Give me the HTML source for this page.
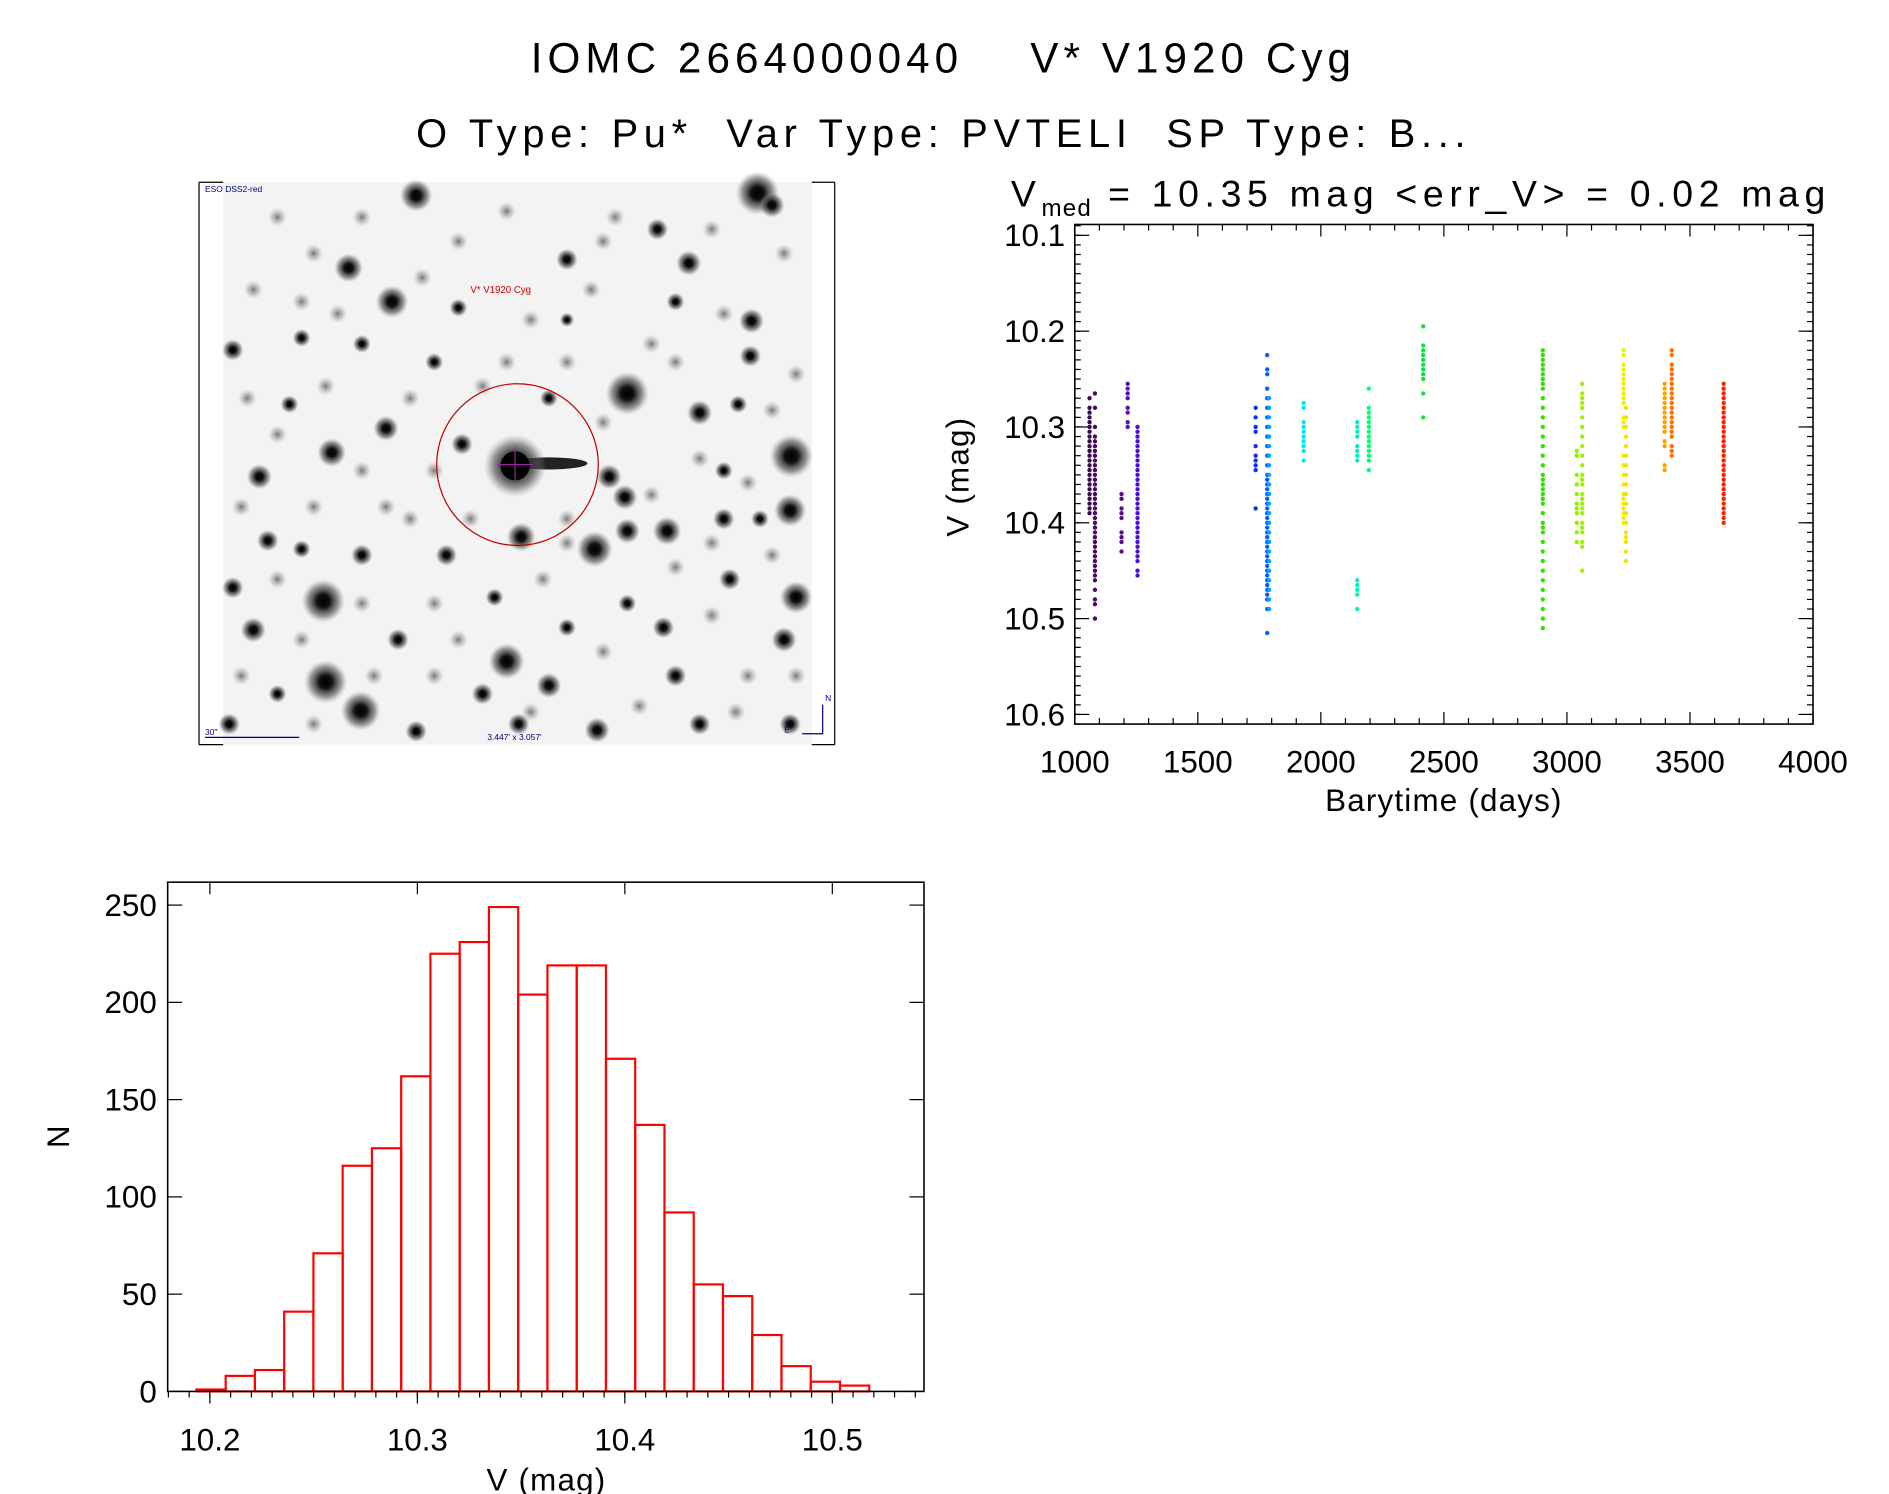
<!DOCTYPE html>
<html><head><meta charset="utf-8"><style>
html,body{margin:0;padding:0;background:#fff;}
svg{display:block;}
text{font-family:"Liberation Sans",sans-serif;fill:#000;white-space:pre;}
</style></head><body>
<svg id="root" width="1889" height="1494" viewBox="0 0 1566 1238" preserveAspectRatio="none" xmlns="http://www.w3.org/2000/svg">
<defs>
<radialGradient id="star"><stop offset="0" stop-color="#000"/><stop offset="0.3" stop-color="#111"/><stop offset="0.7" stop-color="#555" stop-opacity="0.6"/><stop offset="1" stop-color="#999" stop-opacity="0"/></radialGradient>
<radialGradient id="faint"><stop offset="0" stop-color="#777"/><stop offset="0.6" stop-color="#aaa" stop-opacity="0.5"/><stop offset="1" stop-color="#ccc" stop-opacity="0"/></radialGradient>
</defs>
<text x="440" y="60" font-size="35" textLength="680" lengthAdjust="spacing">IOMC 2664000040    V* V1920 Cyg</text>
<text x="345" y="122" font-size="33" textLength="870" lengthAdjust="spacing">O Type: Pu*  Var Type: PVTELI  SP Type: B...</text>
<text x="838" y="171" font-size="31" letter-spacing="4.7">V<tspan font-size="20" dy="8" letter-spacing="1">med</tspan><tspan dy="-8"> = 10.35 mag &lt;err_V&gt; = 0.02 mag</tspan></text>

<g id="img">
<rect x="185" y="151" width="488" height="466" fill="#f3f3f3"/>
<line x1="165" y1="151" x2="165" y2="617" stroke="#000" stroke-width="1"/>
<line x1="165" y1="151" x2="185" y2="151" stroke="#000"/>
<line x1="165" y1="617" x2="185" y2="617" stroke="#000"/>
<line x1="692" y1="151" x2="692" y2="617" stroke="#000"/>
<line x1="673" y1="151" x2="692" y2="151" stroke="#000"/>
<line x1="673" y1="617" x2="692" y2="617" stroke="#000"/>
<g id="faints"></g>
<g id="stars"></g>
<ellipse cx="455" cy="384" rx="32" ry="5" fill="#222"/>
<circle cx="427" cy="386" r="26" fill="url(#star)"/>
<circle cx="427" cy="386" r="12" fill="#000"/>
<line x1="412" y1="385" x2="442" y2="385" stroke="#a020a0" stroke-width="1"/>
<line x1="427" y1="370" x2="427" y2="400" stroke="#a020a0" stroke-width="1"/>
<circle cx="429" cy="385" r="67" fill="none" stroke="#c00000" stroke-width="1"/>
<text x="390" y="243" font-size="8" style="fill:#d00000">V* V1920 Cyg</text>
<text x="170" y="159" font-size="7" style="fill:#000080">ESO DSS2-red</text>
<text x="170" y="609" font-size="7" style="fill:#000080">30"</text>
<line x1="170" y1="611" x2="248" y2="611" stroke="#000080"/>
<text x="404" y="613" font-size="7" style="fill:#000080">3.447' x 3.057'</text>
<path d="M665,608 L682,608 L682,584" fill="none" stroke="#000080"/>
<text x="684" y="581" font-size="7" style="fill:#000080">N</text>
<text x="650" y="607" font-size="7" style="fill:#000080">E</text>
</g>

<g id="lc">
<rect x="891" y="186" width="612" height="414" fill="none" stroke="#000" stroke-width="1.3"/>
<g id="lcticks"></g>
<g id="lcdots"></g>
<text x="1197" y="672" font-size="26" text-anchor="middle" letter-spacing="1">Barytime (days)</text>
<text x="0" y="0" font-size="26" text-anchor="middle" letter-spacing="1" transform="translate(803,395) rotate(-90)">V (mag)</text>
</g>

<g id="hist">
<g id="hbars"></g>
<rect x="139" y="731" width="627" height="422" fill="none" stroke="#000" stroke-width="1.3"/>
<g id="hticks"></g>
<text x="453" y="1235" font-size="26" text-anchor="middle" letter-spacing="1">V (mag)</text>
<text x="0" y="0" font-size="26" text-anchor="middle" transform="translate(57,942) rotate(-90)">N</text>
</g>
</svg>
<script>
// ---------- Histogram data ----------
const binStart = 10.1935;
const binWidth = 0.0141;
const binCounts = [1,8,11,41,71,116,125,162,225,231,249,204,219,219,171,137,92,55,49,29,13,5,3];
const histXTicks = [10.2,10.3,10.4,10.5];
const histXLabels = ["10.2","10.3","10.4","10.5"];
const histYTicks = [0,50,100,150,200,250];
const histYLabels = ["0","50","100","150","200","250"];

// ---------- Light curve data ----------
const lcXTicks = [1000,1500,2000,2500,3000,3500,4000];
const lcXLabels = ["1000","1500","2000","2500","3000","3500","4000"];
const lcYTicks = [10.1,10.2,10.3,10.4,10.5,10.6];
const lcYLabels = ["10.1","10.2","10.3","10.4","10.5","10.6"];
const seasonDays = [1060,1082,1190,1215,1255,1735,1782,1790,1930,2148,2195,2416,2902,3040,3062,3230,3240,3397,3426,3637];
const seasonColors = ["#3a0a50","#4a0a62","#5a0a8a","#6010b0","#4a10d8","#1030f0","#0060ff","#00a8ff","#00e4ff","#00f0c0","#00ff70","#10e040","#30e000","#90f000","#a0f000","#f0f000","#f8e000","#ffa000","#ff7000","#ff2000"];
const seasonMags = [
 [10.27,10.28,10.285,10.29,10.295,10.30,10.305,10.31,10.315,10.32,10.325,10.33,10.335,10.34,10.345,10.35,10.355,10.36,10.365,10.37,10.375,10.38,10.385,10.39],
 [10.265,10.28,10.30,10.31,10.315,10.32,10.325,10.33,10.335,10.34,10.345,10.35,10.355,10.36,10.365,10.37,10.375,10.38,10.385,10.39,10.395,10.40,10.405,10.41,10.415,10.42,10.425,10.43,10.435,10.44,10.445,10.45,10.455,10.46,10.47,10.48,10.485,10.50],
 [10.37,10.375,10.385,10.39,10.395,10.41,10.415,10.42,10.43],
 [10.255,10.26,10.265,10.27,10.28,10.285,10.295,10.30],
 [10.30,10.305,10.31,10.315,10.32,10.325,10.33,10.335,10.34,10.345,10.35,10.355,10.36,10.365,10.37,10.375,10.38,10.385,10.39,10.395,10.40,10.405,10.41,10.415,10.42,10.425,10.43,10.435,10.44,10.45,10.455],
 [10.28,10.29,10.30,10.305,10.32,10.33,10.335,10.34,10.345,10.385],
 [10.225,10.24,10.245,10.26,10.27,10.28,10.29,10.30,10.31,10.32,10.33,10.34,10.35,10.355,10.36,10.365,10.37,10.375,10.38,10.385,10.39,10.395,10.40,10.405,10.41,10.415,10.42,10.425,10.43,10.435,10.44,10.445,10.45,10.455,10.46,10.465,10.47,10.475,10.48,10.49,10.515],
 [10.27,10.28,10.29,10.30,10.31,10.32,10.33,10.34,10.35,10.36,10.37,10.38,10.39,10.40,10.41,10.42,10.43,10.44,10.45,10.46,10.47,10.48,10.49],
 [10.275,10.28,10.295,10.30,10.305,10.31,10.315,10.32,10.325,10.335],
 [10.295,10.30,10.305,10.31,10.32,10.325,10.33,10.335,10.46,10.465,10.47,10.475,10.49],
 [10.26,10.28,10.285,10.29,10.295,10.30,10.305,10.31,10.315,10.32,10.325,10.33,10.335,10.345],
 [10.195,10.215,10.22,10.225,10.23,10.235,10.24,10.245,10.25,10.265,10.29],
 [10.22,10.225,10.23,10.235,10.24,10.245,10.25,10.255,10.26,10.27,10.28,10.29,10.30,10.31,10.32,10.33,10.34,10.35,10.355,10.36,10.365,10.37,10.375,10.38,10.39,10.40,10.405,10.41,10.42,10.43,10.44,10.45,10.46,10.47,10.48,10.49,10.50,10.51],
 [10.325,10.33,10.35,10.36,10.37,10.38,10.385,10.39,10.40,10.41,10.42],
 [10.255,10.265,10.27,10.275,10.28,10.29,10.30,10.31,10.32,10.33,10.34,10.35,10.355,10.36,10.37,10.375,10.38,10.385,10.39,10.40,10.405,10.41,10.42,10.425,10.45],
 [10.22,10.225,10.235,10.24,10.245,10.25,10.255,10.26,10.265,10.27,10.275,10.29,10.295,10.30,10.33,10.34,10.35,10.36,10.37,10.375,10.38,10.385,10.39,10.395,10.40],
 [10.28,10.29,10.30,10.31,10.32,10.33,10.34,10.35,10.36,10.37,10.38,10.39,10.40,10.41,10.415,10.42,10.43,10.44],
 [10.255,10.26,10.265,10.27,10.275,10.28,10.285,10.29,10.295,10.30,10.305,10.315,10.32,10.34,10.345],
 [10.22,10.225,10.235,10.24,10.245,10.25,10.255,10.26,10.265,10.27,10.275,10.28,10.285,10.29,10.295,10.30,10.305,10.31,10.32,10.325,10.33],
 [10.255,10.26,10.265,10.27,10.275,10.28,10.285,10.29,10.295,10.30,10.305,10.31,10.315,10.32,10.325,10.33,10.335,10.34,10.345,10.35,10.355,10.36,10.365,10.37,10.375,10.38,10.385,10.39,10.395,10.40]
];

// ---------- Sky image stars (decorative) ----------
const starList = [[345,162,9],[628,160,12],[289,222,8],[325,250,9],[571,218,7],[470,215,6],[520,326,12],[580,342,7],[656,378,12],[655,423,9],[518,412,7],[520,440,7],[268,498,12],[270,565,12],[299,589,11],[420,548,10],[432,445,8],[493,455,10],[553,440,8],[660,495,9],[650,530,7],[623,266,7],[622,295,6],[193,290,6],[193,487,6],[215,395,7],[222,448,6],[275,375,8],[320,355,7],[383,368,6],[210,522,7],[400,575,6],[455,568,7],[495,605,7],[560,560,6],[605,480,6],[550,520,6],[250,455,5],[300,460,6],[370,460,6],[630,430,5],[545,190,6],[600,430,6],[430,600,6],[240,335,5],[455,330,5],[360,300,5],[410,495,5],[330,530,6],[580,600,6],[190,600,6],[345,606,6],[505,395,7],[470,265,4],[612,335,5],[655,600,6],[640,170,7],[300,285,5],[380,255,5],[250,280,5],[560,250,5],[600,390,5],[230,575,5],[520,500,5],[470,520,5]];
const faintList = [[230,180],[260,210],[300,180],[380,200],[420,175],[510,180],[590,190],[650,210],[210,240],[250,250],[350,230],[440,265],[490,240],[540,285],[600,260],[660,310],[205,330],[270,320],[340,330],[400,320],[470,300],[560,300],[640,340],[230,360],[300,390],[360,390],[500,350],[580,380],[620,400],[200,420],[260,420],[340,430],[390,430],[470,430],[560,470],[640,460],[230,480],[300,500],[360,500],[450,480],[500,540],[590,510],[620,560],[250,530],[310,560],[360,560],[440,590],[530,585],[610,590],[660,560],[200,560],[260,600],[470,450],[380,530],[540,410],[590,450],[320,420],[280,260],[420,300],[500,200]];
const NS = "http://www.w3.org/2000/svg";
function mk(tag, attrs, parent){const e=document.createElementNS(NS,tag);for(const k in attrs)e.setAttribute(k,attrs[k]);parent.appendChild(e);return e;}

const fg = document.getElementById('faints');
faintList.forEach(s=>{
  const c = mk('circle',{cx:s[0],cy:s[1],r:8,fill:'url(#faint)'},fg);
  
  
});
const sg = document.getElementById('stars');
starList.forEach(s=>{
  const c = mk('circle',{cx:s[0],cy:s[1],r:s[2]*1.5,fill:'url(#star)'},sg);
  
  
});

// ---------- Light curve axes ----------
const LX0=891, LX1=1503, LY0=186, LY1=600;
function lx(d){return LX0 + (d-1000)/3000*(LX1-LX0);}
function ly(m){return 195 + (m-10.1)*794;}
const lt = document.getElementById('lcticks');
lcXTicks.forEach((t,i)=>{
  const x=lx(t);
  mk('line',{x1:x,y1:LY1,x2:x,y2:LY1-10,stroke:'#000'},lt);
  mk('line',{x1:x,y1:LY0,x2:x,y2:LY0+10,stroke:'#000'},lt);
  const tx = mk('text',{x:x,y:640,'font-size':26,'text-anchor':'middle'},lt);
  tx.textContent = lcXLabels[i];
  
  
});
for(let d=1100; d<4000; d+=100){ if(d%500===0) continue; const x=lx(d);
  mk('line',{x1:x,y1:LY1,x2:x,y2:LY1-5,stroke:'#000'},lt);
  mk('line',{x1:x,y1:LY0,x2:x,y2:LY0+5,stroke:'#000'},lt);}
lcYTicks.forEach((t,i)=>{
  const y=ly(t);
  mk('line',{x1:LX0,y1:y,x2:LX0+12,y2:y,stroke:'#000'},lt);
  mk('line',{x1:LX1,y1:y,x2:LX1-12,y2:y,stroke:'#000'},lt);
  const tx = mk('text',{x:883,y:y+9,'font-size':26,'text-anchor':'end'},lt);
  tx.textContent = lcYLabels[i];
  
  
});
for(let k=0;k<=52;k++){ const m=10.09+k*0.01; const y=ly(m); if(y<LY0||y>LY1) continue;
  mk('line',{x1:LX0,y1:y,x2:LX0+5,y2:y,stroke:'#000'},lt);
  mk('line',{x1:LX1,y1:y,x2:LX1-5,y2:y,stroke:'#000'},lt);}
const ld = document.getElementById('lcdots');
seasonDays.forEach((d,gi)=>{
  seasonMags[gi].forEach(m=>{
    const c = mk('circle',{cx:lx(d),cy:ly(m),r:1.8,fill:seasonColors[gi]},ld);
    
    
  });
});

// ---------- Histogram ----------
const HX0=139, HX1=766, HY0=731, HY1=1153;
function hx(v){return 174 + (v-10.2)*1720;}
function hy(n){return HY1 - n*(80.6/50);}
const hb = document.getElementById('hbars');
binCounts.forEach((n,i)=>{
  const x0=hx(binStart+i*binWidth), x1=hx(binStart+(i+1)*binWidth);
  const r = mk('rect',{x:x0,y:hy(n),width:x1-x0,height:HY1-hy(n),fill:'none',stroke:'#ff0000','stroke-width':1.8},hb);
  
  
});
const ht = document.getElementById('hticks');
histXTicks.forEach((t,i)=>{
  const x=hx(t);
  mk('line',{x1:x,y1:HY1,x2:x,y2:HY1+10,stroke:'#000'},ht);
  mk('line',{x1:x,y1:HY0,x2:x,y2:HY0+10,stroke:'#000'},ht);
  const tx = mk('text',{x:x,y:1202,'font-size':26,'text-anchor':'middle'},ht);
  tx.textContent = histXLabels[i];
  
  
});
for(let k=0;k<=37;k++){ const v=10.18+k*0.01; const x=hx(v); if(x<HX0||x>HX1) continue;
  mk('line',{x1:x,y1:HY1,x2:x,y2:HY1+5,stroke:'#000'},ht);}
histYTicks.forEach((t,i)=>{
  const y=hy(t);
  mk('line',{x1:HX0,y1:y,x2:HX0+12,y2:y,stroke:'#000'},ht);
  mk('line',{x1:HX1,y1:y,x2:HX1-12,y2:y,stroke:'#000'},ht);
  const tx = mk('text',{x:130,y:y+9,'font-size':26,'text-anchor':'end'},ht);
  tx.textContent = histYLabels[i];
  
  
});
</script>
</body></html>
